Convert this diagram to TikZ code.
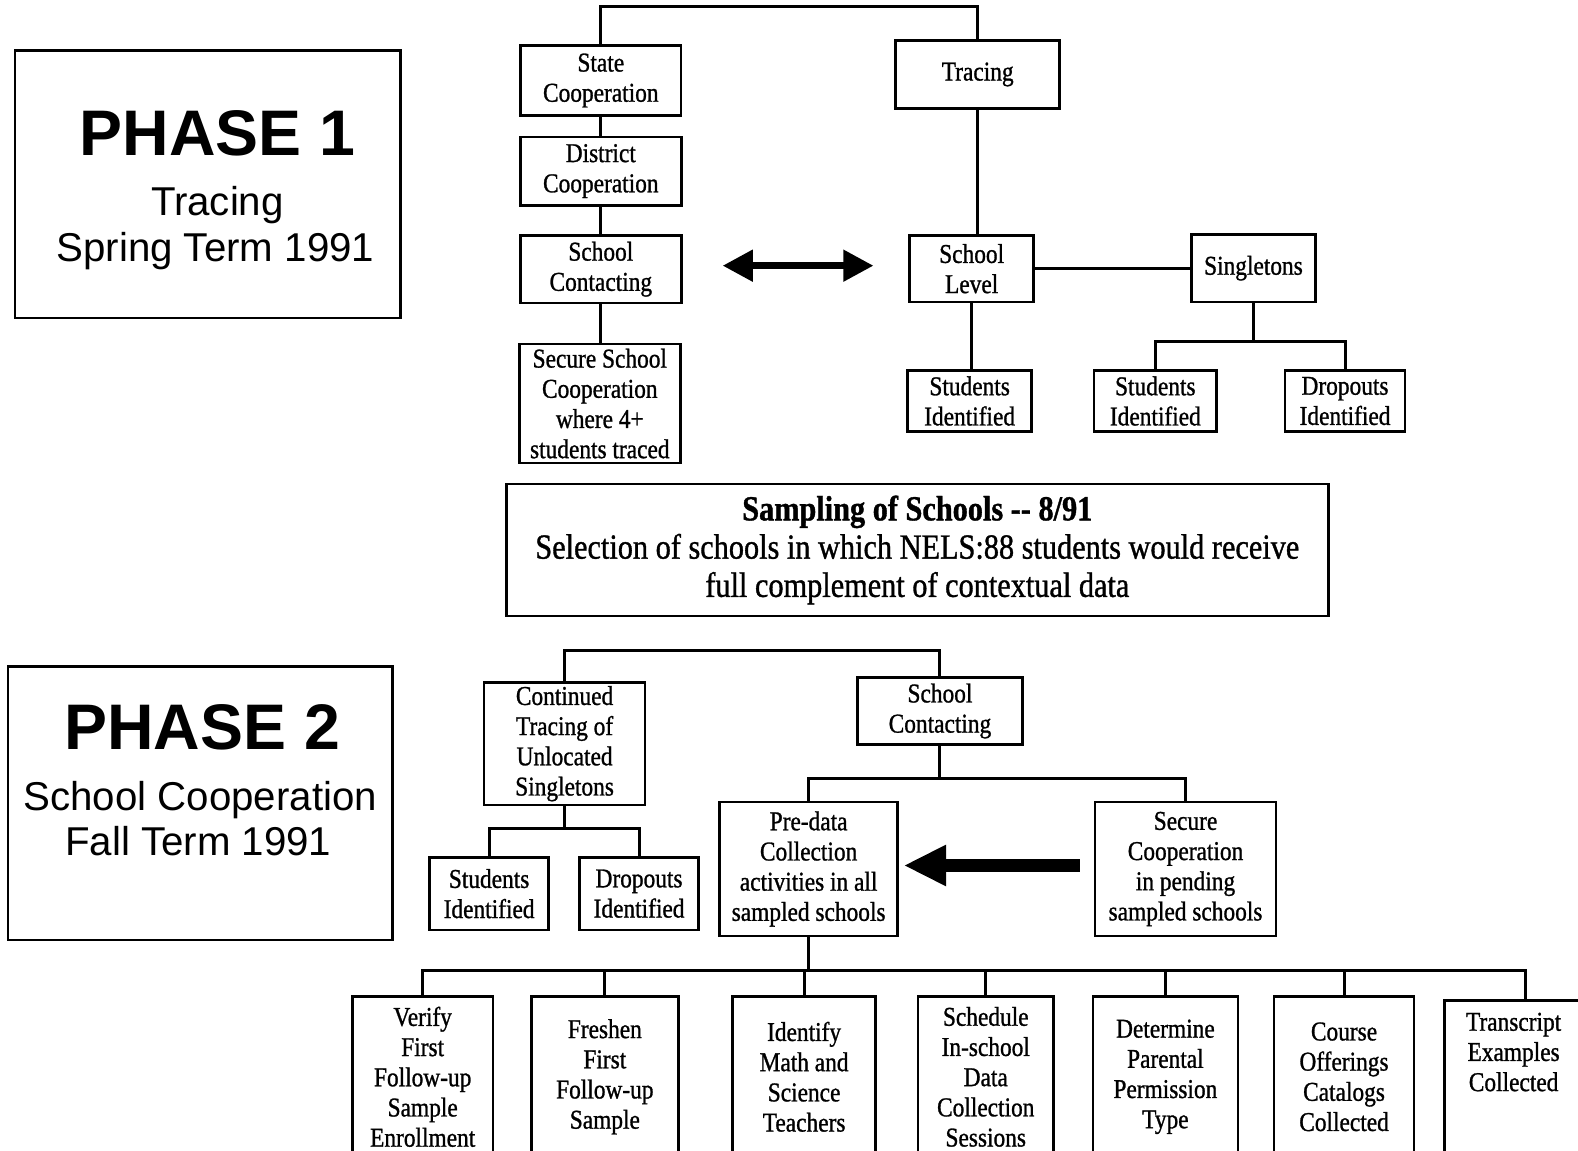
\documentclass[tikz,border=0pt]{standalone}
\usepackage{fontspec}
\usetikzlibrary{arrows.meta}
\newfontfamily\boxfont[FakeStretch=0.86,FakeBold=1]{Liberation Serif}
\newfontfamily\phasefont{Liberation Sans}
\tikzset{
    box/.style={draw, line width=1.3pt, align=center, inner sep=1pt,
        font=\boxfont\fontsize{13.5}{15}\selectfont},
    frame/.style={draw, line width=1.3pt},
    link/.style={line width=1.5pt},
    phasetitle/.style={anchor=base, font=\phasefont\fontsize{32}{36}\selectfont\bfseries},
    phasesub/.style={anchor=base, font=\phasefont\fontsize{20}{24}\selectfont},
}
\begin{document}
\begin{tikzpicture}[x=0.5pt,y=-0.5pt]
    \useasboundingbox (0,0) rectangle (1568,1143);
    % phase labels
    \node[frame, minimum width=191.5pt, minimum height=133pt] (ph1) at (206.5,183) {};
    \node[phasetitle] (ph1a) at (216,155) {PHASE 1};
    \node[phasesub] (ph1b) at (216,214) {Tracing};
    \node[phasesub] (ph1c) at (214,260) {Spring Term 1991};
    \node[frame, minimum width=191pt, minimum height=136pt] (ph2) at (199,798) {};
    \node[phasetitle] (ph2a) at (201,745) {PHASE 2};
    \node[phasesub] (ph2b) at (199,805) {School Cooperation};
    \node[phasesub] (ph2c) at (197,850) {Fall Term 1991};
    % phase 1 tree
    \node[box, minimum width=79.5pt, minimum height=35pt] (stc) at (597,80) {State\\Cooperation};
    \node[box, minimum width=80pt, minimum height=34pt] (disc) at (597,170) {District\\Cooperation};
    \node[box, minimum width=80pt, minimum height=33.5pt] (schc) at (597,267.5) {School\\Contacting};
    \node[box, minimum width=80pt, minimum height=59pt] (secs) at (596,401) {Secure School\\Cooperation\\where 4+\\students traced};
    \node[box, minimum width=81.5pt, minimum height=34pt] (trac) at (971.5,74) {Tracing};
    \node[box, minimum width=61.5pt, minimum height=33pt] (schl) at (965.5,267) {School\\Level};
    \node[box, minimum width=61.5pt, minimum height=33.5pt] (sing) at (1245.5,266.5) {Singletons};
    \node[box, minimum width=61.5pt, minimum height=30.5pt] (stid1) at (963.5,398.5) {Students\\Identified};
    \node[box, minimum width=61pt, minimum height=30.5pt] (stid2) at (1148,398.5) {Students\\Identified};
    \node[box, minimum width=59.5pt, minimum height=30.5pt] (drid1) at (1336.5,398.5) {Dropouts\\Identified};
    \draw[link] (stc.north) -- ++(0,-37) -| (trac.north);
    \draw[link] (stc) -- (disc) (disc) -- (schc) (schc.south) -- (schc.south |- secs.north);
    \draw[link] (trac.south) -- (trac.south |- schl.north);
    \draw[link] (schl.south) -- (schl.south |- stid1.north);
    \draw[link] (schl.east) -- (schl.east -| sing.west);
    \foreach \c in {stid2,drid1} \draw[link] (sing.south) -- ++(0,38) -| (\c.north);
    \coordinate (dbl1) at (718,264);
    \coordinate (dbl2) at (868,264);
    \draw[line width=3.5pt, {Triangle[length=15pt,width=15pt]}-{Triangle[length=15pt,width=15pt]}] (dbl1) -- (dbl2);
    % sampling
    \node[box, minimum width=408.5pt, minimum height=65.5pt, font=\boxfont\fontsize{17.5}{19}\selectfont] (samp) at (911.5,546.5)
        {{\bfseries Sampling of Schools -{}- 8/91}\\Selection of schools in which NELS:88 students would receive\\full complement of contextual data};
    % phase 2 tree
    \node[box, minimum width=80pt, minimum height=61pt] (ctr) at (561,739) {Continued\\Tracing of\\Unlocated\\Singletons};
    \node[box, minimum width=82pt, minimum height=33.5pt] (scc) at (934,706.5) {School\\Contacting};
    \node[box, minimum width=88.5pt, minimum height=66.5pt] (prd) at (803.5,863.5) {Pre-data\\Collection\\activities in all\\sampled schools};
    \node[box, minimum width=90pt, minimum height=66.5pt] (secp) at (1178,863.5) {Secure\\Cooperation\\in pending\\sampled schools};
    \node[box, minimum width=59pt, minimum height=36pt] (stid3) at (486,888) {Students\\Identified};
    \node[box, minimum width=59pt, minimum height=36pt] (drid2) at (635,888) {Dropouts\\Identified};
    \draw[link] (ctr.north) -- ++(0,-30) -| (scc.north);
    \foreach \c in {stid3,drid2} \draw[link] (ctr.south) -- ++(0,22) -| (\c.north);
    \foreach \c in {prd,secp} \draw[link] (scc.south) -- ++(0,32) -| (\c.north);
    \coordinate (bga1) at (1073,860);
    \coordinate (bga2) at (898,860);
    \draw[line width=6pt, -{Triangle[length=21pt,width=19pt]}] (bga1) -- (bga2);
    % bottom row
    \node[box, minimum width=70pt, minimum height=80pt] (vfy) at (420,1070) {Verify\\First\\Follow-up\\Sample\\Enrollment};
    \node[box, minimum width=73pt, minimum height=80pt] (frsh) at (601,1070) {Freshen\\First\\Follow-up\\Sample};
    \node[box, minimum width=71pt, minimum height=80pt] (idnt) at (799,1070) {Identify\\Math and\\Science\\Teachers};
    \node[box, minimum width=67.5pt, minimum height=80pt] (schd) at (979.5,1070) {Schedule\\In-school\\Data\\Collection\\Sessions};
    \node[box, minimum width=72pt, minimum height=80pt] (detm) at (1158,1070) {Determine\\Parental\\Permission\\Type};
    \node[box, minimum width=69.5pt, minimum height=80pt] (crse) at (1335.5,1070) {Course\\Offerings\\Catalogs\\Collected};
    \node[box, anchor=north, minimum width=68.5pt, inner ysep=6pt, text depth=70pt] (trns) at (1504,993) {Transcript\\Examples\\Collected};
    \foreach \c in {vfy,frsh,idnt,schd,detm,crse} \draw[link] (prd.south) -- ++(0,33) -| (\c.north);
    \draw[link] (prd.south) -- ++(0,33) -| ([xshift=6pt]trns.north);
\end{tikzpicture}
\end{document}
